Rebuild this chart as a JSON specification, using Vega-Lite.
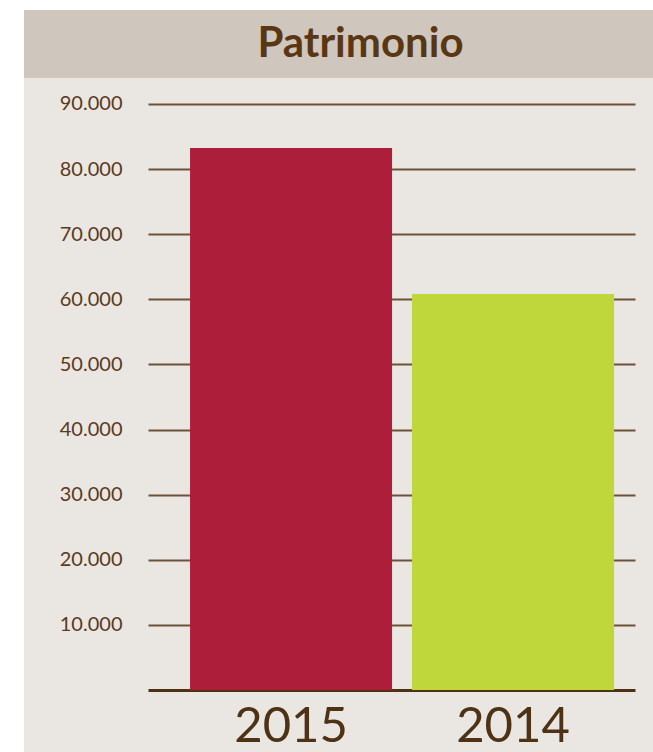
{
  "$schema": "https://vega.github.io/schema/vega-lite/v6.json",
  "background": "white",
  "padding": {"left": 24, "top": 10, "right": 0, "bottom": 0},
  "spacing": 0,
  "config": {"view": {"stroke": null}, "font": "Lato"},
  "vconcat": [
    {
      "width": 629,
      "height": 68,
      "view": {"fill": "#cfc6bd", "stroke": null},
      "data": {"values": [{"title": "Patrimonio"}]},
      "mark": {"type": "text", "font": "Lato", "fontSize": 42, "fontWeight": "bold", "color": "#5a3713", "dx": 22, "baseline": "middle", "align": "center"},
      "encoding": {"text": {"field": "title", "type": "nominal"}}
    },
    {
      "width": 629,
      "height": 674,
      "view": {"fill": "#eae6e2", "stroke": null},
      "data": {"values": [
        {"year": "2015", "patrimonio": 83240},
        {"year": "2014", "patrimonio": 60800}
      ]},
      "layer": [
        {
          "mark": {"type": "bar"},
          "encoding": {
            "x": {
              "field": "year", "type": "nominal", "sort": null,
              "scale": {"paddingInner": 0.09, "paddingOuter": 0.4617, "align": 0.81},
              "axis": {"orient": "bottom", "offset": -62, "title": null, "domain": false, "ticks": false, "grid": false, "labelAngle": 0, "labelFont": "Lato", "labelFontSize": 49, "labelColor": "#4e3215", "labelPadding": 12}
            },
            "y": {
              "field": "patrimonio", "type": "quantitative",
              "scale": {"domain": [-9522, 93993], "nice": false, "zero": false},
              "axis": {"orient": "left", "offset": -123, "title": null, "domain": false, "ticks": false, "grid": false, "values": [10000, 20000, 30000, 40000, 50000, 60000, 70000, 80000, 90000], "labelExpr": "replace(format(datum.value, ',.0f'), ',', '.')", "labelFont": "Lato", "labelFontSize": 20, "labelColor": "#5b3a1e", "labelPadding": 25}
            },
            "y2": {"datum": 0},
            "color": {"field": "year", "type": "nominal", "scale": {"domain": ["2015", "2014"], "range": ["#ad1e3a", "#bfd73b"]}, "legend": null}
          }
        },
        {
          "mark": {"type": "bar", "opacity": 0},
          "encoding": {
            "x": {"field": "year", "type": "nominal", "sort": null},
            "y": {
              "field": "patrimonio", "type": "quantitative",
              "axis": {"orient": "right", "offset": -18, "title": null, "domain": false, "labels": false, "grid": false, "values": [0, 10000, 20000, 30000, 40000, 50000, 60000, 70000, 80000, 90000], "tickSize": -487,
                "tickWidth": {"condition": {"test": "datum.value === 0", "value": 3}, "value": 2},
                "tickColor": {"condition": {"test": "datum.value === 0", "value": "#4e3215"}, "value": "#6e5238"}}
            },
            "y2": {"datum": 0}
          }
        }
      ],
      "resolve": {"axis": {"y": "independent"}}
    }
  ]
}
